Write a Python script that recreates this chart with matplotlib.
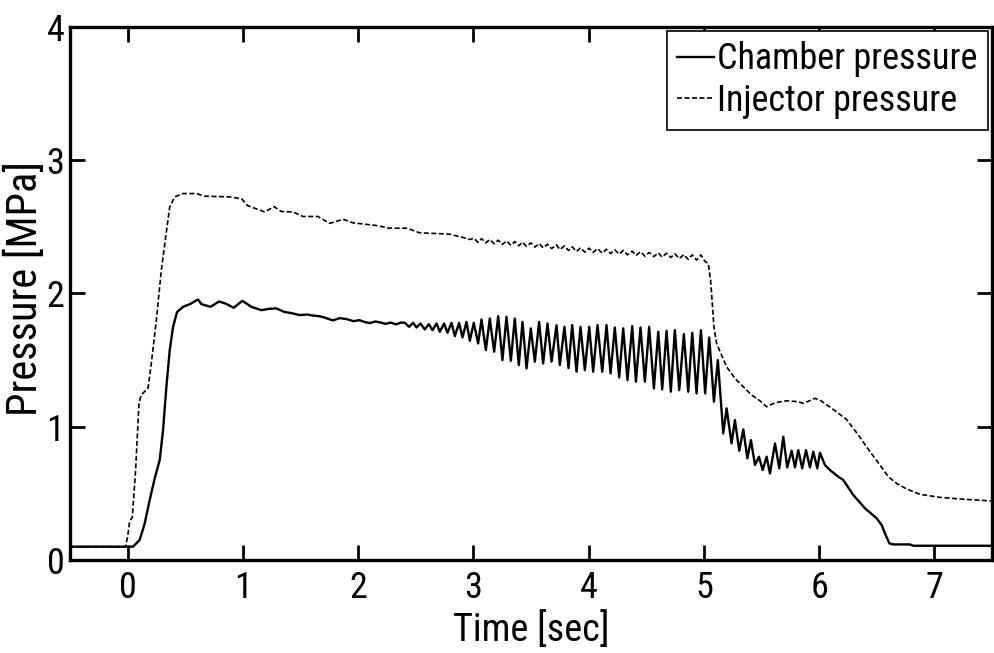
"""Chamber and injector pressure trace during a firing test."""

import matplotlib

matplotlib.use("Agg")
import matplotlib.pyplot as plt
from matplotlib import font_manager

# chamber pressure [MPa] vs time [sec]
chamber_t_startup = [-0.5, 0.0, 0.046, 0.104, 0.148, 0.191, 0.234, 0.278, 0.307, 0.336,
                     0.365, 0.394, 0.428, 0.48, 0.54, 0.61, 0.64, 0.718, 0.793, 0.848,
                     0.92, 0.995, 1.073, 1.16, 1.23, 1.29, 1.36, 1.435, 1.49, 1.56,
                     1.60, 1.66, 1.70, 1.74, 1.78, 1.84, 1.90, 1.96, 2.01, 2.06,
                     2.10, 2.15, 2.19, 2.24, 2.28, 2.33, 2.37]
chamber_p_startup = [0.1, 0.1, 0.1, 0.15, 0.275, 0.45, 0.61, 0.75, 0.975, 1.30,
                     1.575, 1.75, 1.86, 1.90, 1.92, 1.955, 1.92, 1.90, 1.94, 1.925,
                     1.893, 1.945, 1.90, 1.875, 1.885, 1.888, 1.862, 1.85, 1.838, 1.842,
                     1.835, 1.83, 1.822, 1.81, 1.798, 1.815, 1.808, 1.792, 1.80, 1.785,
                     1.778, 1.79, 1.783, 1.772, 1.782, 1.768, 1.782]

chamber_t_osc = [2.405, 2.442, 2.477, 2.506, 2.541, 2.578, 2.613, 2.645, 2.680, 2.708,
                 2.746, 2.775, 2.810, 2.839, 2.876, 2.905, 2.940, 2.969, 3.003, 3.041,
                 3.070, 3.108, 3.142, 3.180, 3.215, 3.252, 3.287, 3.325, 3.359, 3.394,
                 3.426, 3.461, 3.498, 3.533, 3.570, 3.605, 3.643, 3.678, 3.721, 3.750,
                 3.790, 3.825, 3.857, 3.895, 3.929, 3.967, 4.005, 4.039, 4.077, 4.118,
                 4.155, 4.190, 4.227, 4.265, 4.300, 4.337, 4.378, 4.410, 4.450, 4.488,
                 4.525, 4.566, 4.604, 4.638, 4.676, 4.713, 4.748, 4.786, 4.826, 4.864,
                 4.899, 4.936, 4.974, 5.011, 5.046, 5.087, 5.121, 5.168]
chamber_p_osc = [1.780, 1.750, 1.780, 1.745, 1.775, 1.730, 1.770, 1.725, 1.775, 1.713,
                 1.775, 1.705, 1.780, 1.680, 1.780, 1.670, 1.787, 1.645, 1.780, 1.625,
                 1.805, 1.575, 1.812, 1.563, 1.830, 1.500, 1.825, 1.495, 1.812, 1.463,
                 1.787, 1.438, 1.738, 1.488, 1.787, 1.475, 1.775, 1.488, 1.762, 1.463,
                 1.750, 1.440, 1.763, 1.413, 1.750, 1.425, 1.750, 1.413, 1.763, 1.413,
                 1.763, 1.400, 1.745, 1.370, 1.738, 1.350, 1.755, 1.338, 1.745, 1.338,
                 1.750, 1.288, 1.713, 1.280, 1.720, 1.263, 1.725, 1.275, 1.695, 1.263,
                 1.705, 1.250, 1.725, 1.250, 1.670, 1.188, 1.500, 0.950]

chamber_t_shutdown = [5.197, 5.240, 5.269, 5.307, 5.342, 5.377, 5.408, 5.443, 5.478, 5.510,
                      5.544, 5.573, 5.617, 5.654, 5.689, 5.723, 5.761, 5.790, 5.819, 5.853,
                      5.886, 5.920, 5.949, 5.984, 6.007, 6.05, 6.094, 6.166, 6.21, 6.296,
                      6.398, 6.499, 6.542, 6.571, 6.609, 6.644, 6.788, 6.817, 7.5]
chamber_p_shutdown = [1.138, 0.875, 1.050, 0.820, 0.980, 0.763, 0.900, 0.713, 0.775, 0.675,
                      0.775, 0.650, 0.875, 0.688, 0.925, 0.695, 0.820, 0.695, 0.825, 0.688,
                      0.825, 0.695, 0.813, 0.688, 0.805, 0.713, 0.675, 0.625, 0.60, 0.488,
                      0.388, 0.313, 0.263, 0.20, 0.125, 0.117, 0.117, 0.107, 0.107]

# injector pressure [MPa]
injector_t_startup = [-0.5, -0.02, 0.0, 0.017, 0.04, 0.069, 0.098, 0.118, 0.177, 0.205,
                      0.249, 0.292, 0.33, 0.365, 0.408, 0.48, 0.596, 0.668, 0.885, 0.99,
                      1.04, 1.10, 1.19, 1.27, 1.334, 1.435, 1.52, 1.65, 1.753, 1.87,
                      1.956, 2.16, 2.27, 2.42, 2.535, 2.68, 2.795, 2.91, 2.97]
injector_p_startup = [0.1, 0.1, 0.175, 0.29, 0.32, 0.675, 1.175, 1.24, 1.29, 1.475,
                      1.80, 2.175, 2.425, 2.65, 2.725, 2.75, 2.75, 2.73, 2.725, 2.71,
                      2.66, 2.64, 2.612, 2.652, 2.615, 2.612, 2.578, 2.578, 2.526, 2.557,
                      2.53, 2.51, 2.49, 2.49, 2.455, 2.45, 2.445, 2.42, 2.405]

injector_t_osc = [3.003, 3.041, 3.070, 3.108, 3.142, 3.180, 3.215, 3.252, 3.287, 3.325,
                  3.359, 3.394, 3.426, 3.461, 3.498, 3.533, 3.570, 3.605, 3.643, 3.678,
                  3.721, 3.750, 3.790, 3.825, 3.857, 3.895, 3.929, 3.967, 4.005, 4.039,
                  4.077, 4.118, 4.155, 4.190, 4.227, 4.265, 4.300, 4.337, 4.378, 4.410,
                  4.450, 4.488, 4.525, 4.566, 4.604, 4.638, 4.676, 4.713, 4.748, 4.786,
                  4.826, 4.864, 4.899, 4.936, 4.974, 5.010]
injector_p_osc = [2.415, 2.383, 2.412, 2.380, 2.405, 2.373, 2.400, 2.368, 2.395, 2.362,
                  2.390, 2.358, 2.385, 2.353, 2.380, 2.348, 2.375, 2.343, 2.370, 2.337,
                  2.365, 2.330, 2.357, 2.323, 2.350, 2.315, 2.343, 2.310, 2.340, 2.308,
                  2.337, 2.303, 2.332, 2.300, 2.328, 2.295, 2.323, 2.290, 2.318, 2.285,
                  2.313, 2.280, 2.308, 2.277, 2.305, 2.273, 2.302, 2.270, 2.298, 2.262,
                  2.292, 2.255, 2.290, 2.250, 2.290, 2.240]

injector_t_shutdown = [5.038, 5.058, 5.075, 5.087, 5.11, 5.153, 5.197, 5.269, 5.342, 5.414,
                       5.486, 5.544, 5.617, 5.718, 5.819, 5.862, 5.964, 6.007, 6.094, 6.238,
                       6.34, 6.441, 6.528, 6.60, 6.672, 6.759, 6.875, 7.049, 7.222, 7.5]
injector_p_shutdown = [2.225, 2.10, 1.90, 1.75, 1.625, 1.538, 1.45, 1.363, 1.30, 1.238,
                       1.195, 1.15, 1.18, 1.195, 1.188, 1.175, 1.213, 1.20, 1.148, 1.055,
                       0.938, 0.813, 0.713, 0.625, 0.575, 0.533, 0.493, 0.470, 0.458, 0.443]

x_ticks = [0, 1, 2, 3, 4, 5, 6, 7]
y_ticks = [0, 1, 2, 3, 4]


def pick_font():
    # the original uses a narrow Japanese gothic face; a condensed sans is the closest match
    names = {f.name for f in font_manager.fontManager.ttflist}
    for name in ("Roboto Condensed", "Liberation Sans Narrow"):
        if name in names:
            return name, {"tick": 26, "xlabel": 27.5, "ylabel": 30.5, "legend": 26}
    return "DejaVu Sans", {"tick": 22, "xlabel": 23, "ylabel": 25, "legend": 21}


def main():
    family, sizes = pick_font()
    plt.rcParams["font.family"] = [family, "DejaVu Sans"]

    fig = plt.figure(figsize=(9.95, 6.53), dpi=100, facecolor="white")
    ax = fig.add_axes([0.0704, 0.1424, 0.9266, 0.8163])

    chamber_t = chamber_t_startup + chamber_t_osc + chamber_t_shutdown
    chamber_p = chamber_p_startup + chamber_p_osc + chamber_p_shutdown
    injector_t = injector_t_startup + injector_t_osc + injector_t_shutdown
    injector_p = injector_p_startup + injector_p_osc + injector_p_shutdown

    ax.plot(chamber_t, chamber_p, color="black", linewidth=1.7, label="Chamber pressure")
    ax.plot(injector_t, injector_p, color="black", linewidth=1.2,
            linestyle=(0, (3.0, 1.5)), label="Injector pressure")

    ax.set_xlim(-0.5, 7.5)
    ax.set_ylim(0, 4)
    ax.set_xticks(x_ticks)
    ax.set_yticks(y_ticks)
    ax.tick_params(direction="in", length=11, width=2, top=True, right=True,
                   labelsize=sizes["tick"], colors="black")
    ax.tick_params(axis="x", pad=7)
    ax.tick_params(axis="y", pad=4)
    for spine in ax.spines.values():
        spine.set_linewidth(2.4)

    ax.set_xlabel("Time [sec]", fontsize=sizes["xlabel"], labelpad=4)
    ax.set_ylabel("Pressure [MPa]", fontsize=sizes["ylabel"])
    ax.yaxis.set_label_coords(-0.026, 0.51)

    leg = ax.legend(loc="upper right", fontsize=sizes["legend"], frameon=True, fancybox=False,
                    edgecolor="black", framealpha=1.0, borderaxespad=0.1,
                    handlelength=1.0, handletextpad=0.1, borderpad=0.3,
                    labelspacing=0.15)
    leg.get_frame().set_linewidth(1.2)

    fig.savefig("out.png", dpi=100)
    plt.close(fig)


if __name__ == "__main__":
    main()
